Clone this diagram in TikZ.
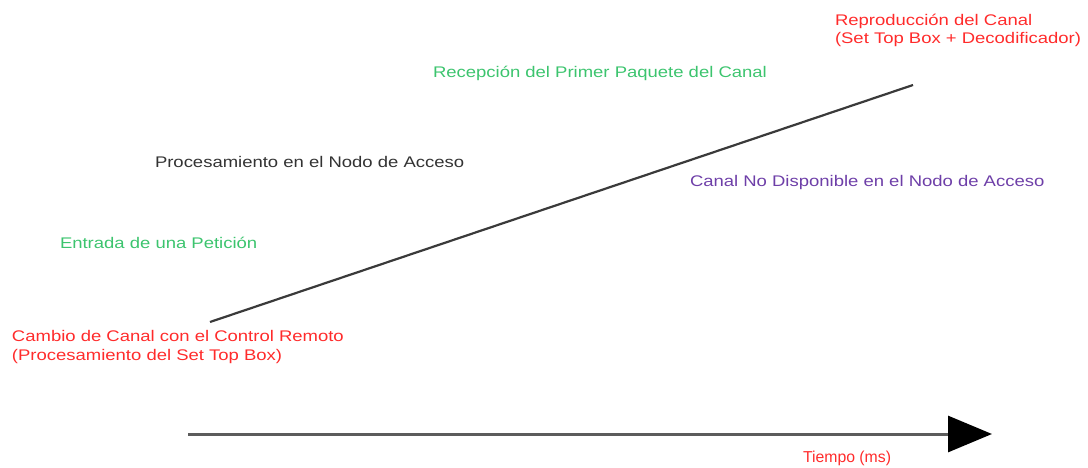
\documentclass[tikz,border=0pt]{standalone}
\usepackage{fontspec}
\setmainfont{Liberation Sans}[FakeStretch=1.2]
\newfontfamily\plainfont{Liberation Sans}
\usetikzlibrary{arrows.meta}
\definecolor{tred}{HTML}{FF2B2B}
\definecolor{tgreen}{HTML}{3CC46E}
\definecolor{tpurple}{HTML}{6E3FA8}
\definecolor{tdark}{HTML}{333333}
\definecolor{tline}{HTML}{3A3A3A}
\begin{document}
\begin{tikzpicture}[x=1pt,y=-1pt,
  lbl/.style={inner sep=0pt, outer sep=0pt, anchor=base west, align=left,
    font=\fontsize{15.4}{18.5}\selectfont},
  rampline/.style={draw=tline, line width=2.2pt},
  timeline/.style={draw=tdark!80, line width=3pt,
    -{Triangle[length=44pt,width=36pt,color=black]}}]
\useasboundingbox (0,0) rectangle (1088,468);
% time axis
\coordinate (tstart) at (188,434);
\coordinate (tend) at (992,434);
\draw[timeline] (tstart) -- (tend);
\node[lbl, text=tred, font=\plainfont\fontsize{15.8}{18}\selectfont] (tiempo) at (803,462) {Tiempo (ms)};
% ramp line
\coordinate (rstart) at (210,322);
\coordinate (rend) at (913,85);
\draw[rampline] (rstart) -- (rend);
% labels
\node[lbl, text=tred] (repro) at (835,44) {Reproducción del Canal\\(Set Top Box + Decodificador)};
\node[lbl, text=tgreen] (recep) at (433,78) {Recepción del Primer Paquete del Canal};
\node[lbl, text=tdark] (proc) at (155,168) {Procesamiento en el Nodo de Acceso};
\node[lbl, text=tpurple] (nodisp) at (690,186) {Canal No Disponible en el Nodo de Acceso};
\node[lbl, text=tgreen] (entrada) at (60,248) {Entrada de una Petición};
\node[lbl, text=tred] (cambio) at (12,360) {Cambio de Canal con el Control Remoto\\(Procesamiento del Set Top Box)};
\end{tikzpicture}
\end{document}
